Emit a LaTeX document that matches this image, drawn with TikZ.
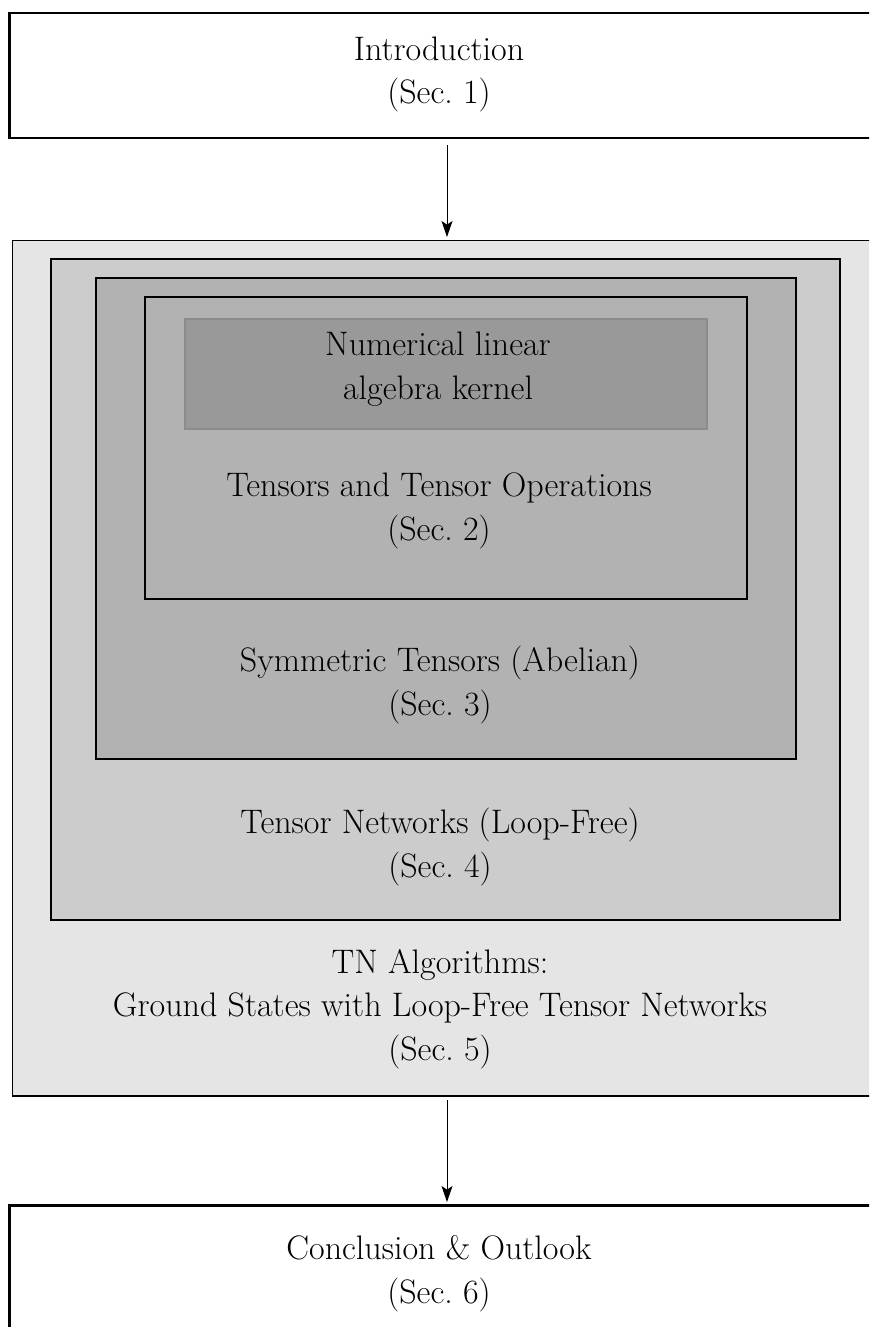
\documentclass[tikz,border=0pt]{standalone}
\usetikzlibrary{arrows.meta}
\begin{document}
\begin{tikzpicture}[x=0.5pt,y=-0.5pt,
  lbl/.style={font=\fontsize{17}{21.75}\selectfont, align=center, anchor=base, inner sep=0pt},
  boxnode/.style={rectangle, inner sep=0pt, outer sep=0pt, anchor=north west},
  endbox/.style={boxnode, draw=black, line width=1.2pt, fill=white},
  arr/.style={draw=black, line width=0.5pt, -{Stealth[length=8pt, width=5.5pt, inset=1.8pt]}}
]
\useasboundingbox (0,0) rectangle (869,1327);
\clip (0,0) rectangle (869,1327);

% boxes
\node[endbox, minimum width=437.5pt, minimum height=62.5pt] (intro) at (9.5,13) {};
\node[boxnode, draw=black, line width=0.7pt, fill=black!10, minimum width=434.5pt, minimum height=427.75pt] (tn) at (12.5,240.5) {};
\node[boxnode, draw=black, line width=1pt, fill=black!20, minimum width=394.5pt, minimum height=330.5pt] (tnet) at (51,259) {};
\node[boxnode, draw=black, line width=1pt, fill=black!30, minimum width=350pt, minimum height=240.5pt] (sym) at (96,278) {};
\node[boxnode, draw=black, line width=1pt, fill=black!30, minimum width=301pt, minimum height=151.25pt] (ops) at (144.5,296.5) {};
\node[boxnode, draw=black!45, line width=1pt, fill=black!40, minimum width=260.75pt, minimum height=55pt] (kernel) at (185,319) {};
\node[endbox, minimum width=437.5pt, minimum height=77.25pt] (concl) at (9.5,1205.5) {};

% labels (anchor = baseline of last line)
\node[lbl] (introtxt) at (439,104) {Introduction\\(Sec.~1)};
\node[lbl] (kerneltxt) at (438,399) {Numerical linear\\algebra kernel};
\node[lbl] (opstxt) at (439,540) {Tensors and Tensor Operations\\(Sec.~2)};
\node[lbl] (symtxt) at (440,715) {Symmetric Tensors (Abelian)\\(Sec.~3)};
\node[lbl] (tnettxt) at (440,877) {Tensor Networks (Loop-Free)\\(Sec.~4)};
\node[lbl] (tntxt) at (440,1060) {TN Algorithms:\\Ground States with Loop-Free Tensor Networks\\(Sec.~5)};
\node[lbl] (concltxt) at (439,1303) {Conclusion \& Outlook\\(Sec.~6)};

% connectors
\draw[arr, shorten <=3.5pt, shorten >=1.75pt] (intro.south) -- (tn.north);
\draw[arr, shorten <=2pt, shorten >=1.75pt] (tn.south) -- (concl.north);
\end{tikzpicture}
\end{document}
